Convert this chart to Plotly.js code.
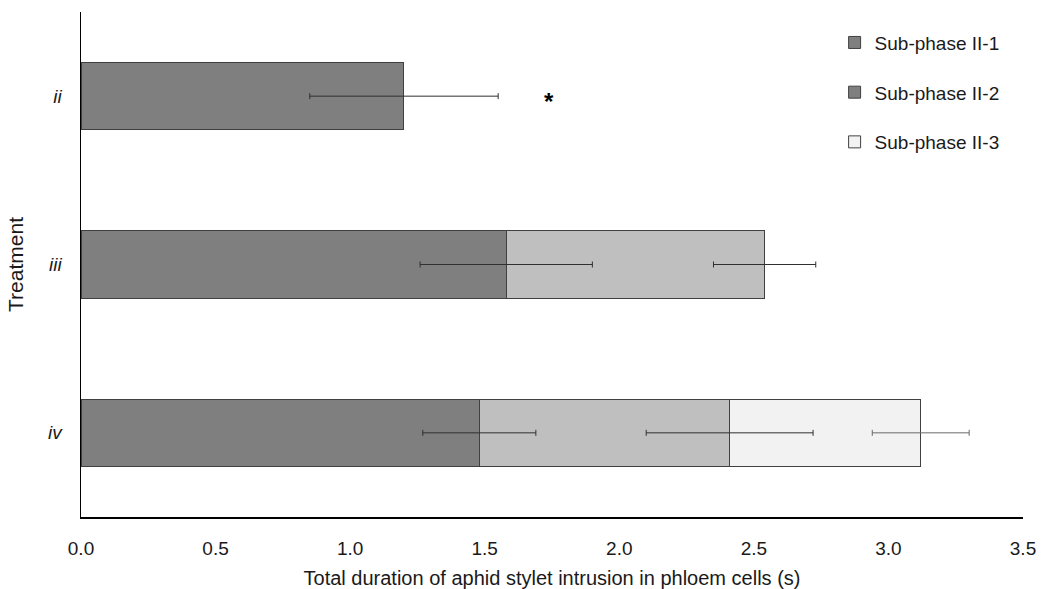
<!DOCTYPE html>
<html>
<head>
<meta charset="utf-8">
<script src="https://cdn.plot.ly/plotly-3.0.1.min.js"></script>
<style>html,body{margin:0;padding:0;background:#fff;}#chart{width:1041px;height:589px;}</style>
</head>
<body>
<div id="chart"></div>
<script>
// ---- data ----
const treatments = ["ii", "iii", "iv"];
const seriesNames = ["Sub-phase II-1", "Sub-phase II-2", "Sub-phase II-3"];
const phase1 = [1.20, 1.58, 1.48];
const phase1Err = [0.35, 0.32, 0.21];
const phase2 = [null, 0.96, 0.93];
const phase2Err = [null, 0.19, 0.31];
const phase3 = [null, null, 0.71];
const phase3Err = [null, null, 0.18];
const xTickVals = [0, 0.5, 1, 1.5, 2, 2.5, 3, 3.5];
const xTickText = ["0.0", "0.5", "1.0", "1.5", "2.0", "2.5", "3.0", "3.5"];
const sigMarkText = "*";
const sigMarkX = 1.74;
const sigMarkY = "ii";

// ---- derived: stacked ends for error bars ----
function addArr(a, b) { return a.map((v, i) => (v == null || b[i] == null) ? null : v + b[i]); }
const end1 = phase1.slice();
const end2 = addArr(end1, phase2);
const end3 = addArr(end2, phase3);

// ---- styles ----
const fonts = "'Liberation Sans', Arial, sans-serif";
const txt = "#1a1a1a";
const outline = {color: "#404040", width: 1};
// the II-2 legend swatch in the source is dark: first point colour drives the legend swatch
const colors1 = ["#7f7f7f", "#7f7f7f", "#7f7f7f"];
const colors2 = ["#7f7f7f", "#bfbfbf", "#bfbfbf"];
const colors3 = ["#f2f2f2", "#f2f2f2", "#f2f2f2"];

function bar(name, vals, cols, grp) {
  return {
    type: "bar", orientation: "h", name: name, y: treatments, x: vals,
    legendgroup: grp, marker: {color: cols, line: outline}
  };
}
function err(ends, errs, color) {
  return {
    type: "scatter", mode: "markers", x: ends, y: treatments, showlegend: false,
    marker: {size: 1, opacity: 0},
    error_x: {type: "data", array: errs, symmetric: true, visible: true,
              color: color, thickness: 1, width: 3}
  };
}

const traces = [
  bar(seriesNames[0], phase1, colors1, "g1"),
  bar(seriesNames[1], phase2, colors2, "g2"),
  bar(seriesNames[2], phase3, colors3, "g3"),
  err(end1, phase1Err, "#303030"),
  err(end2, phase2Err, "#303030"),
  err(end3, phase3Err, "#6a6a6a")
];

const layout = {
  width: 1041, height: 589,
  margin: {l: 81, r: 18, t: 12, b: 72, pad: 0},
  paper_bgcolor: "#fff", plot_bgcolor: "#fff",
  barmode: "stack", bargap: 0.6,
  font: {family: fonts, size: 19, color: txt},
  showlegend: true,
  legend: {
    x: 0.80, xanchor: "left", y: 0.977, yanchor: "top",
    traceorder: "grouped", tracegroupgap: 22,
    font: {family: fonts, size: 19, color: txt},
    itemwidth: 30, bgcolor: "rgba(0,0,0,0)"
  },
  xaxis: {
    range: [0, 3.5], tickvals: xTickVals, ticktext: xTickText,
    showgrid: false, zeroline: false, showline: true,
    linecolor: "#000", linewidth: 1.5, ticks: "",
    ticklabelstandoff: 14,
    tickfont: {family: fonts, size: 19, color: txt},
    title: {text: "Total duration of aphid stylet intrusion in phloem cells (s)",
            font: {family: fonts, size: 20, color: txt}, standoff: 14},
    fixedrange: true
  },
  yaxis: {
    type: "category", range: [2.5, -0.5],
    showgrid: false, zeroline: false, showline: true,
    linecolor: "#000", linewidth: 1.5, ticks: "",
    ticklabelstandoff: 14,
    tickfont: {family: fonts, size: 19, color: txt, style: "italic"},
    title: {text: "Treatment", font: {family: fonts, size: 21, color: txt}, standoff: 18},
    fixedrange: true
  },
  annotations: [{
    x: sigMarkX, y: sigMarkY, xref: "x", yref: "y", text: "<b>" + sigMarkText + "</b>",
    showarrow: false, font: {family: fonts, size: 24, color: "#000"}, yshift: -5
  }]
};

Plotly.newPlot("chart", traces, layout, {displayModeBar: false, staticPlot: true});
</script>
</body>
</html>
